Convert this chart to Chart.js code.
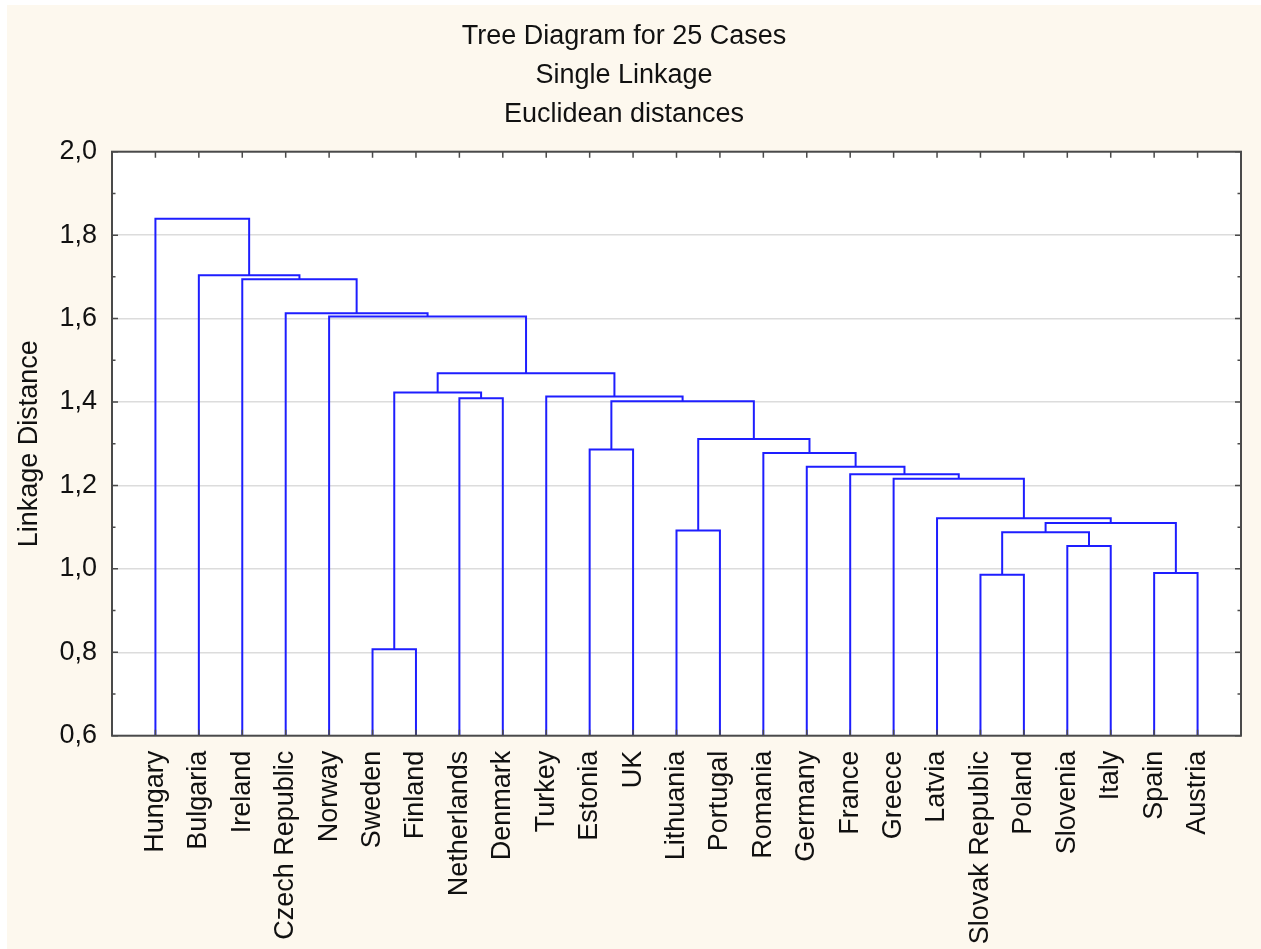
<!DOCTYPE html>
<html>
<head>
<meta charset="utf-8">
<title>Tree Diagram for 25 Cases</title>
<script src="https://cdn.jsdelivr.net/npm/chart.js@4.4.1/dist/chart.umd.min.js"></script>
<style>
  html, body { margin: 0; padding: 0; background: #ffffff; }
  #wrap { position: absolute; left: 7px; top: 5px; width: 1254px; height: 944px; background: #fdf8ee; }
  canvas { display: block; }
</style>
</head>
<body>
<div id="wrap"><canvas id="tree" width="1254" height="944"></canvas></div>
<script>
// Leaves of the dendrogram, left to right
const leafNames = [
  'Hungary', 'Bulgaria', 'Ireland', 'Czech Republic', 'Norway', 'Sweden', 'Finland',
  'Netherlands', 'Denmark', 'Turkey', 'Estonia', 'UK', 'Lithuania', 'Portugal',
  'Romania', 'Germany', 'France', 'Greece', 'Latvia', 'Slovak Republic', 'Poland',
  'Slovenia', 'Italy', 'Spain', 'Austria'
];

// Single-linkage merge steps: cluster ids < 25 are leaves, merge k creates cluster 25 + k
const mergeLeft   = [5, 19, 23, 21, 26, 12, 29, 18, 17, 16, 15, 14, 10, 30, 37, 7, 9, 25, 42, 4, 3, 2, 1, 0];
const mergeRight  = [6, 20, 24, 22, 28, 13, 27, 31, 32, 33, 34, 35, 11, 36, 38, 8, 39, 40, 41, 43, 44, 45, 46, 47];
const mergeHeight = [0.807, 0.986, 0.990, 1.055, 1.088, 1.092, 1.110, 1.121, 1.216, 1.227, 1.245, 1.278,
                     1.286, 1.311, 1.402, 1.409, 1.413, 1.423, 1.469, 1.605, 1.613, 1.694, 1.704, 1.839];

// Axis ticks
const yTickValues  = [0.6, 0.8, 1.0, 1.2, 1.4, 1.6, 1.8, 2.0];
const yMinorValues = [0.7, 0.9, 1.1, 1.3, 1.5, 1.7, 1.9];
const yTickLabels  = ['0,6', '0,8', '1,0', '1,2', '1,4', '1,6', '1,8', '2,0'];

const FONT = "'Liberation Sans', Arial, Helvetica, sans-serif";
const TEXT_COLOR = '#111111';
const LINK_COLOR = 'rgb(30,30,255)';
const FRAME_COLOR = '#4a4a4a';

// Build one elbow-shaped path per merge from the linkage table
const yBase = yTickValues[0];
const nodeX = leafNames.map((_, i) => i);
const nodeH = leafNames.map(() => yBase);
const datasets = [];
mergeHeight.forEach((h, k) => {
  const a = mergeLeft[k], b = mergeRight[k];
  datasets.push({
    data: [
      { x: nodeX[a], y: nodeH[a] },
      { x: nodeX[a], y: h },
      { x: nodeX[b], y: h },
      { x: nodeX[b], y: nodeH[b] }
    ],
    showLine: true,
    borderColor: LINK_COLOR,
    borderWidth: 2,
    pointRadius: 0,
    tension: 0,
    fill: false
  });
  nodeX.push((nodeX[a] + nodeX[b]) / 2);
  nodeH.push(h);
});

// Plot frame with inward tick marks on all four sides
const framePlugin = {
  id: 'frame',
  afterDraw(chart) {
    const { ctx, chartArea: ca, scales } = chart;
    const xs = scales.x, ys = scales.y;
    ctx.save();
    ctx.strokeStyle = FRAME_COLOR;
    ctx.lineWidth = 1.5;
    ctx.beginPath();
    leafNames.forEach((_, i) => {
      const px = xs.getPixelForValue(i);
      ctx.moveTo(px, ca.top); ctx.lineTo(px, ca.top + 6);
      ctx.moveTo(px, ca.bottom); ctx.lineTo(px, ca.bottom - 6);
    });
    yTickValues.forEach(v => {
      const py = ys.getPixelForValue(v);
      ctx.moveTo(ca.left, py); ctx.lineTo(ca.left + 6, py);
      ctx.moveTo(ca.right, py); ctx.lineTo(ca.right - 6, py);
    });
    yMinorValues.forEach(v => {
      const py = ys.getPixelForValue(v);
      ctx.moveTo(ca.left, py); ctx.lineTo(ca.left + 3.5, py);
      ctx.moveTo(ca.right, py); ctx.lineTo(ca.right - 3.5, py);
    });
    ctx.stroke();
    ctx.lineWidth = 2;
    ctx.strokeRect(ca.left, ca.top, ca.right - ca.left, ca.bottom - ca.top);
    ctx.restore();
  }
};

// White plotting area behind the grid
const plotBgPlugin = {
  id: 'plotBg',
  beforeDraw(chart) {
    const { ctx, chartArea: ca } = chart;
    ctx.save();
    ctx.fillStyle = '#ffffff';
    ctx.fillRect(ca.left, ca.top, ca.right - ca.left, ca.bottom - ca.top);
    ctx.restore();
  }
};

new Chart(document.getElementById('tree'), {
  type: 'scatter',
  data: { datasets },
  plugins: [plotBgPlugin, framePlugin],
  options: {
    responsive: false,
    devicePixelRatio: 1,
    animation: false,
    layout: { padding: { left: 0, right: 20, top: 0, bottom: 0 } },
    plugins: {
      legend: { display: false },
      tooltip: { enabled: false },
      title: {
        display: true,
        text: ['Tree Diagram for 25 Cases', 'Single Linkage', 'Euclidean distances'],
        color: TEXT_COLOR,
        font: { family: FONT, size: 27, weight: 'normal', lineHeight: '39px' },
        padding: { top: 12, bottom: 17.7 }
      }
    },
    scales: {
      x: {
        type: 'linear',
        min: -1,
        max: leafNames.length,
        afterFit(scale) { scale.height = 213.3; },
        afterBuildTicks(scale) { scale.ticks = leafNames.map((_, i) => ({ value: i })); },
        grid: { display: false, drawTicks: false },
        border: { display: false },
        ticks: {
          autoSkip: false,
          minRotation: 90,
          maxRotation: 90,
          padding: 15,
          color: TEXT_COLOR,
          font: { family: FONT, size: 27 },
          callback: (v) => leafNames[v]
        }
      },
      y: {
        type: 'linear',
        min: yTickValues[0],
        max: yTickValues[yTickValues.length - 1],
        afterFit(scale) { scale.width = 105; },
        afterBuildTicks(scale) { scale.ticks = yTickValues.map(v => ({ value: v })); },
        grid: { color: '#dcdcdc', lineWidth: 1.5, drawTicks: false },
        border: { display: false },
        ticks: {
          padding: 15,
          color: TEXT_COLOR,
          font: { family: FONT, size: 27 },
          callback: (v) => yTickLabels[yTickValues.findIndex(t => Math.abs(t - v) < 1e-9)]
        },
        title: {
          display: true,
          text: 'Linkage Distance',
          color: TEXT_COLOR,
          font: { family: FONT, size: 27 },
          padding: { top: 6, bottom: 0 }
        }
      }
    }
  }
});
</script>
</body>
</html>
